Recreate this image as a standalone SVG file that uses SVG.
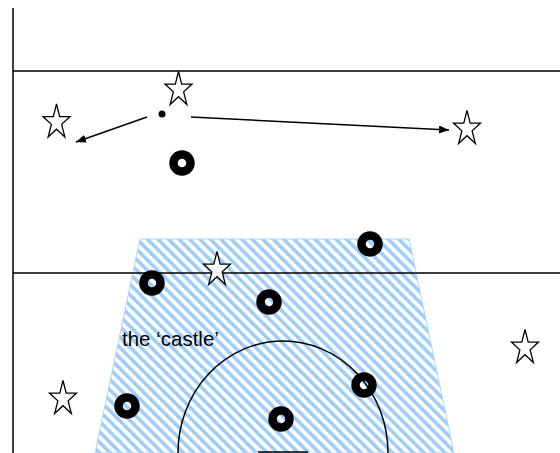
<svg xmlns="http://www.w3.org/2000/svg" xmlns:xlink="http://www.w3.org/1999/xlink" width="560" height="453" viewBox="0 0 560 453">
  <style>
    .line { stroke: #000; stroke-width: 1.5; fill: none; }
    .ring { fill: none; stroke: #000; stroke-width: 8.5; }
    .star { fill: #fff; stroke: #000; stroke-width: 1.3; stroke-linejoin: miter; }
    .conn { stroke: #000; stroke-width: 1.5; fill: none; marker-end: url(#arrow); }
    .label { font-family: "Liberation Sans", Arial, sans-serif; font-size: 20.5px; fill: #000; }
  </style>
  <defs>
    <pattern id="stripes" patternUnits="userSpaceOnUse" width="7.4" height="10" patternTransform="rotate(-45)">
      <rect x="0" y="0" width="3.6" height="10" fill="#9fcdfb"/>
    </pattern>
    <path id="starShape" class="star" d="M0,-16.5 L3.19,-3.9 L13.5,-3.9 L5.15,3.89 L8.35,16.5 L0,8.71 L-8.35,16.5 L-5.15,3.89 L-13.5,-3.9 L-3.19,-3.9 Z"/>
    <marker id="arrow" markerUnits="userSpaceOnUse" markerWidth="10" markerHeight="8" refX="10" refY="4" orient="auto">
      <path d="M0,0 L10,4 L0,8 Z" fill="#000"/>
    </marker>
  </defs>

  <rect width="560" height="453" fill="#fff"/>

  <g id="castle">
    <polygon points="140,239 409,239 454,453 95,453" fill="url(#stripes)" stroke="#aed6fb" stroke-width="1"/>
  </g>

  <g id="field">
    <line class="line" x1="13" y1="8" x2="13" y2="453" stroke-width="2"/>
    <line class="line" x1="13" y1="71" x2="560" y2="71"/>
    <line class="line" x1="13" y1="273" x2="560" y2="273"/>
    <path class="line" d="M178,453 A105,112 0 0 1 388,453" stroke-width="2"/>
    <line class="line" x1="258" y1="452" x2="308" y2="452" stroke-width="3"/>
  </g>

  <g id="label">
    <text class="label" x="122" y="346">the ‘castle’</text>
  </g>

  <g id="connectors">
    <line class="conn" x1="147" y1="117" x2="76" y2="142"/>
    <line class="conn" x1="191" y1="117" x2="449" y2="130"/>
  </g>

  <g id="ball">
    <circle cx="162" cy="114" r="3.5" fill="#000"/>
  </g>

  <g id="star1"><use xlink:href="#starShape" x="178.5" y="88"/></g>
  <g id="star2"><use xlink:href="#starShape" x="56.5" y="120.5"/></g>
  <g id="star3"><use xlink:href="#starShape" x="467" y="127"/></g>
  <g id="star4"><use xlink:href="#starShape" x="217" y="268"/></g>
  <g id="star5"><use xlink:href="#starShape" x="525" y="346"/></g>
  <g id="star6"><use xlink:href="#starShape" x="63" y="397"/></g>

  <g id="ring1"><circle class="ring" cx="182" cy="163" r="8.5"/></g>
  <g id="ring2"><circle class="ring" cx="370" cy="244" r="8.5"/></g>
  <g id="ring3"><circle class="ring" cx="152" cy="283" r="8.5"/></g>
  <g id="ring4"><circle class="ring" cx="269" cy="302" r="8.5"/></g>
  <g id="ring5"><circle class="ring" cx="364" cy="385" r="8.5"/></g>
  <g id="ring6"><circle class="ring" cx="127" cy="406" r="8.5"/></g>
  <g id="ring7"><circle class="ring" cx="281" cy="419" r="8.5"/></g>
</svg>
